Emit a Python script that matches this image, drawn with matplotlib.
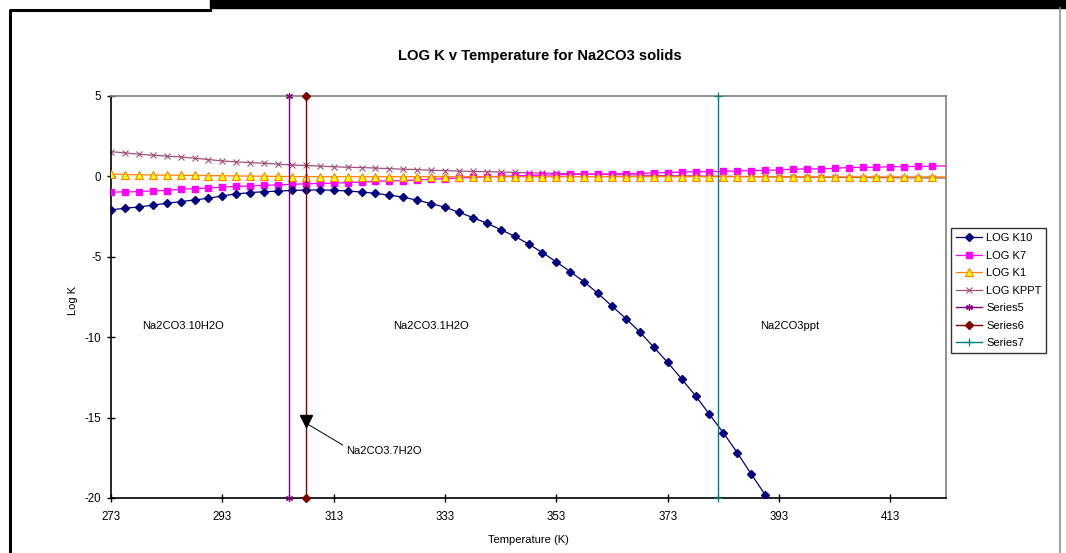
import numpy as np
import matplotlib
matplotlib.use("Agg")
import matplotlib.pyplot as plt
from matplotlib.patches import Rectangle
from matplotlib.lines import Line2D

plt.rcParams["font.family"] = ["Liberation Sans", "DejaVu Sans"]
plt.rcParams["axes.unicode_minus"] = False

# temperature grid (K), one point every 2.5 K
temperature = np.arange(273.0, 423.01, 2.5)

log_k10 = [-2.08, -1.98, -1.90, -1.79, -1.67, -1.57, -1.46, -1.36, -1.21, -1.09,
           -1.01, -0.95, -0.92, -0.87, -0.85, -0.84, -0.86, -0.91, -0.97, -1.05,
           -1.17, -1.29, -1.48, -1.69, -1.92, -2.23, -2.56, -2.91, -3.31, -3.72,
           -4.20, -4.74, -5.32, -5.92, -6.56, -7.28, -8.07, -8.84, -9.68, -10.62,
           -11.57, -12.59, -13.64, -14.80, -15.94, -17.18, -18.51, -19.79, -21.10]

log_k7 = [-0.98, -0.96, -0.95, -0.90, -0.88, -0.80, -0.76, -0.72, -0.66, -0.62,
          -0.60, -0.55, -0.53, -0.49, -0.46, -0.44, -0.42, -0.38, -0.36, -0.30,
          -0.28, -0.26, -0.22, -0.18, -0.14, -0.10, -0.06, -0.02, 0.00, 0.03,
          0.06, 0.08, 0.10, 0.12, 0.13, 0.14, 0.16, 0.17, 0.18, 0.22,
          0.24, 0.26, 0.29, 0.30, 0.31, 0.34, 0.36, 0.37, 0.40, 0.45,
          0.46, 0.47, 0.50, 0.55, 0.56, 0.57, 0.60, 0.61, 0.62, 0.63, 0.66]

log_k1 = [0.15, 0.11, 0.10, 0.09, 0.08, 0.07, 0.06, 0.05, 0.04, 0.03,
          0.02, 0.01, 0.00, -0.01, -0.01, -0.02, -0.02, -0.02, -0.02, -0.02,
          -0.02, -0.02, -0.02, -0.02, -0.02, -0.02, -0.02, -0.02, -0.02, -0.02,
          -0.02, -0.02, -0.02, -0.02, -0.02, -0.02, -0.02, -0.02, -0.02, -0.02,
          -0.02, -0.02, -0.02, -0.02, -0.02, -0.02, -0.02, -0.03, -0.03, -0.03,
          -0.03, -0.03, -0.03, -0.03, -0.03, -0.03, -0.03, -0.03, -0.03, -0.03, -0.03]

log_kppt = [1.54, 1.46, 1.38, 1.32, 1.26, 1.21, 1.13, 1.05, 0.96, 0.90,
            0.86, 0.82, 0.76, 0.71, 0.68, 0.64, 0.60, 0.57, 0.55, 0.52,
            0.48, 0.45, 0.42, 0.38, 0.36, 0.33, 0.31, 0.29, 0.27, 0.25,
            0.22, 0.20, 0.19, 0.17, 0.15, 0.13, 0.11, 0.10, 0.08, 0.06,
            0.05, 0.04, 0.03, 0.02, 0.01, 0.00, -0.01, -0.02, -0.03, -0.04,
            -0.05, -0.05, -0.06, -0.07, -0.07, -0.08, -0.08, -0.09, -0.09, -0.10, -0.10]

# phase boundaries (vertical series)
series5_x = [305, 305]
series5_y = [-20, 5]
series6_x = [308, 308]
series6_y = [-20, 5]
series7_x = [382, 382]
series7_y = [-20, 5]

region_labels = ["Na2CO3.10H2O", "Na2CO3.1H2O", "Na2CO3ppt"]
region_x = [286, 330.5, 395]
region_y = -9.3

hepta_point = (308, -15.2)
hepta_label = "Na2CO3.7H2O"

x_ticks = [273, 293, 313, 333, 353, 373, 393, 413]
y_ticks = [5, 0, -5, -10, -15, -20]

W, H = 1066, 553
fig = plt.figure(figsize=(W / 100, H / 100), dpi=100)

# window frame bits from the screenshot
fig.patches.append(Rectangle((210 / W, 1 - 8 / H), 1 - 210 / W, 8 / H,
                             transform=fig.transFigure, color="black", zorder=0))
fig.lines.append(Line2D([10 / W, 10 / W, 210 / W], [0, 1 - 10 / H, 1 - 10 / H],
                        transform=fig.transFigure, color="black", lw=2.2))
fig.lines.append(Line2D([1060 / W, 1060 / W], [0, 1 - 8 / H],
                        transform=fig.transFigure, color="#909090", lw=1.2))

ax = fig.add_axes([111 / W, 1 - 498 / H, (946 - 111) / W, (498 - 96) / H])

n = len(temperature)
mk = slice(0, n - 1)
ax.plot(temperature[:len(log_k10)], log_k10, color="#000080", lw=0.9, marker="D",
        ms=4.2, mfc="#000080", mec="#000080", label="LOG K10", zorder=4)
ax.plot(temperature, log_k7, color="#FF00FF", lw=0.9, marker="s", ms=5,
        mfc="#FF00FF", mec="#FF00FF", markevery=mk, label="LOG K7", zorder=3)
ax.plot(temperature, log_k1, color="#FF8000", lw=0.9, marker="^", ms=6,
        mfc="#FFFF00", mec="#FF8000", mew=0.8, markevery=mk, label="LOG K1", zorder=5)
ax.plot(temperature, log_kppt, color="#A0507A", lw=0.9, marker="x", ms=4.5,
        mew=0.8, markevery=mk, label="LOG KPPT", zorder=2)
ax.plot(series5_x, series5_y, color="#800080", lw=1.0, marker=(6, 2, 0), ms=5,
        mew=0.9, label="Series5", clip_on=False, zorder=6)
ax.plot(series6_x, series6_y, color="#800000", lw=1.0, marker="D", ms=4,
        label="Series6", clip_on=False, zorder=6)
ax.plot(series7_x, series7_y, color="#008080", lw=1.0, marker="+", ms=6,
        mew=0.9, label="Series7", clip_on=False, zorder=6)

for lab, xx in zip(region_labels, region_x):
    ax.text(xx, region_y, lab, ha="center", va="center", fontsize=8)

ax.plot([hepta_point[0]], [hepta_point[1]], marker="v", color="black", ms=8, zorder=7)
ax.plot([hepta_point[0] + 0.3, 314.6], [hepta_point[1] - 0.2, -16.7],
        color="black", lw=0.7, zorder=7)
ax.text(315.2, -17.1, hepta_label, ha="left", va="center", fontsize=8)

ax.set_xlim(273, 423)
ax.set_ylim(-20, 5)
ax.set_xticks(x_ticks)
ax.set_yticks(y_ticks)
ax.tick_params(axis="both", direction="inout", length=6, width=1, labelsize=8.3,
               color="black")
ax.tick_params(axis="x", pad=6)
ax.tick_params(axis="y", pad=4)
for s in ["top", "right"]:
    ax.spines[s].set_color("#808080")
    ax.spines[s].set_linewidth(1.2)
for s in ["left", "bottom"]:
    ax.spines[s].set_color("black")
    ax.spines[s].set_linewidth(1.2)

fig.text(540 / W, 1 - 56 / H, "LOG K v Temperature for Na2CO3 solids",
         ha="center", va="center", fontsize=10.6, fontweight="bold")
fig.text(528 / W, 1 - 540 / H, "Temperature (K)", ha="center", va="center", fontsize=8)
fig.text(73 / W, 1 - 300 / H, "Log K", ha="center", va="center", fontsize=8,
         rotation=90)

leg = fig.legend(loc="upper left", bbox_to_anchor=(951 / W, 1 - 228 / H),
                 fontsize=8, frameon=True, fancybox=False, edgecolor="black",
                 handlelength=2.3, handletextpad=0.4, labelspacing=0.68,
                 borderpad=0.45, borderaxespad=0)
leg.get_frame().set_linewidth(1.0)

fig.savefig("out.png", dpi=100)
